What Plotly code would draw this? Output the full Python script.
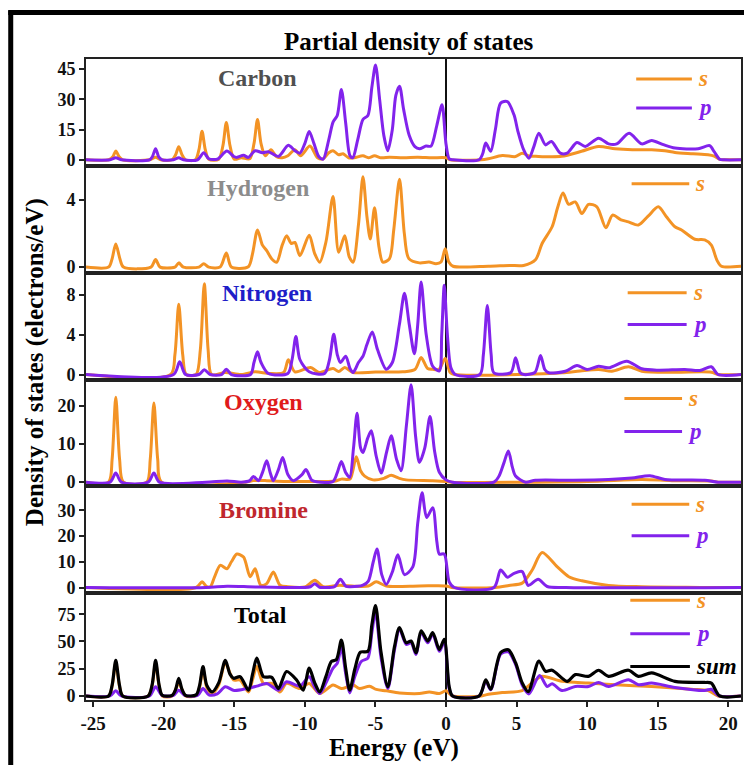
import plotly.graph_objects as go
from plotly.subplots import make_subplots

# ---------------- data ----------------
carbon_s = [(-25.5,0),(-23.9,0),(-23.6,1.5),(-23.39,4.3),(-23.15,1.5),(-22.9,0),
    (-21.0,0),(-20.57,1.2),(-20.2,0),(-19.4,0),(-19.15,2.5),(-18.93,6.5),(-18.7,2.5),(-18.45,0),
    (-17.75,0),(-17.5,5),(-17.28,14.2),(-17.05,5),(-16.8,0.3),(-16.1,0.3),(-15.8,7),(-15.56,18.5),
    (-15.3,7),(-15.0,0.3),(-14.5,1),(-13.9,0.5),(-13.6,8),(-13.35,20),(-13.1,8),(-12.8,2),(-12.4,5),
    (-12.0,1.5),(-11.6,1),(-11.2,2),(-10.7,5),(-10.3,2),(-9.64,6.8),(-9.1,1),(-8.7,0.5),(-8.3,3.5),
    (-8.0,4.5),(-7.6,2.5),(-7.29,3),(-6.9,1),(-6.5,1),(-5.88,2),(-5.5,1),(-5.06,2),(-4.6,1),(-4.0,1.2),
    (-3.0,1),(-2.0,1.3),(-1.0,1),(0,1),(0.3,0),(2.5,0),(3.0,0.5),(4.0,2.1),(4.93,1.6),(5.4,3.3),
    (5.9,1.8),(6.34,1.7),(7.3,1.5),(8.2,1.7),(9.6,4.2),(10.8,6.6),(11.98,5.5),(13.2,5),(14.57,5),
    (15.5,4.5),(16.22,3.6),(17.5,3),(18.57,2.5),(19.0,1.8),(19.4,0.2),(19.7,0),(20.9,0)]
carbon_p = [(-25.5,0),(-23.8,0),(-23.39,1),(-23.0,0),(-21.0,0),(-20.8,1.5),(-20.57,5.5),(-20.35,1.5),
    (-20.1,0),(-19.3,0),(-18.93,1),(-18.6,0),(-17.6,0),(-17.16,3.5),(-16.8,0.5),(-16.2,0.3),(-15.52,4.3),
    (-15.0,1.5),(-14.8,1.2),(-14.34,2.2),(-14.0,1.2),(-13.52,4.5),(-13.0,3.5),(-12.58,4),(-11.87,1.7),
    (-11.17,7.2),(-10.7,4.5),(-10.35,3.3),(-10.0,8),(-9.69,14),(-9.35,8),(-9.0,1.5),(-8.7,0.3),(-8.3,10),
    (-8.0,18.7),(-7.7,22),(-7.41,34.9),(-7.1,18),(-6.8,2),(-6.6,1),(-6.25,10),(-5.88,20),(-5.53,22),
    (-5.25,36),(-4.99,47),(-4.7,30),(-4.4,12),(-4.12,4.5),(-3.8,15),(-3.55,32),(-3.29,36.5),(-3.0,25),
    (-2.6,12),(-2.2,6.5),(-1.88,5.5),(-1.41,6.8),(-1.06,6.8),(-0.65,17),(-0.28,27.3),(0.0,8),(0.23,0.5),
    (0.5,0),(2.35,0),(2.6,3),(2.82,8.3),(3.17,4.2),(3.5,15),(3.87,28.1),(4.35,28.9),(4.82,22.3),(5.1,14),
    (5.5,5),(5.87,0.8),(6.2,6),(6.58,13.2),(7.05,7.4),(7.47,9.1),(8.1,3.3),(8.58,3.3),(9.28,8.6),(9.87,6.6),
    (10.81,10.7),(11.52,7.9),(12.1,7.9),(12.97,13.2),(13.87,7.9),(14.57,9.6),(15.4,7.5),(16.22,5.8),
    (17.86,5.5),(18.68,7.0),(19.0,4),(19.39,0.3),(19.7,0),(20.9,0)]
hydrogen_s = [(-25.5,0),(-23.9,0),(-23.65,0.5),(-23.39,1.37),(-23.1,0.5),(-22.85,0),(-20.9,0),
    (-20.57,0.45),(-20.25,0),(-19.2,0),(-18.93,0.25),(-18.6,0),(-17.5,0),(-17.16,0.2),(-16.8,0),(-16.0,0),
    (-15.56,0.84),(-15.2,0),(-14.0,0.02),(-13.7,0.8),(-13.35,2.2),(-13.0,1.3),(-12.7,0.98),(-12.35,0.5),
    (-11.99,0.29),(-11.6,1.3),(-11.29,1.85),(-10.95,1.4),(-10.7,1.46),(-10.35,0.67),(-9.69,1.89),
    (-9.3,0.8),(-8.94,0.29),(-8.5,1.5),(-8.0,4.18),(-7.6,0.88),(-7.17,1.86),(-6.85,0.6),(-6.58,0.29),
    (-6.2,2.5),(-5.88,5.35),(-5.6,3),(-5.36,1.66),(-5.06,3.52),(-4.75,1.2),(-4.47,0.29),(-4.0,0.5),
    (-3.7,2.2),(-3.29,5.2),(-2.95,2),(-2.63,0.5),(-1.88,0.25),(-1.2,0.3),(-0.71,0.2),(-0.35,0.3),
    (-0.05,1.08),(0.2,0.3),(0.5,0.05),(3.0,0.05),(4.5,0.1),(5.5,0.1),(6.34,0.43),(6.81,1.4),(7.52,2.39),
    (7.9,3.5),(8.29,4.39),(8.69,3.72),(9.16,3.86),(9.63,3.17),(10.1,3.72),(10.69,3.57),(11.33,2.33),
    (11.8,3.08),(12.4,2.8),(12.93,2.68),(13.63,2.49),(14.3,3.0),(15.04,3.57),(15.6,3.0),(16.22,2.39),
    (16.69,2.2),(17.63,1.65),(18.33,1.61),(18.8,1.3),(19.2,0.4),(19.51,0.05),(20.9,0.05)]
nitrogen_s = [(-25.5,0),(-19.5,0),(-19.2,2),(-18.93,7.03),(-18.65,2),(-18.4,0),(-17.7,0),(-17.4,2.5),
    (-17.12,9.1),(-16.85,2.5),(-16.6,0),(-15.63,0.2),(-14.5,0),(-13.52,0.27),(-12.5,0.1),(-11.5,0.2),
    (-11.17,1.47),(-10.7,0.27),(-9.59,0.7),(-9.0,0.2),(-8.0,0.6),(-7.6,0.3),(-7.17,0.7),(-6.58,0.2),
    (-5.0,0.25),(-3.06,0.27),(-2.2,0.5),(-1.76,1.7),(-1.3,0.6),(-0.94,0.53),(-0.5,0.5),(-0.05,1.6),
    (0.3,0.2),(0.6,0),(6.34,0.05),(8.22,0.17),(9.5,0.35),(10.81,0.5),(11.75,0.33),(12.93,0.77),
    (13.87,0.33),(16.22,0.23),(18.8,0.23),(19.27,0),(20.9,0)]
nitrogen_p = [(-25.5,0),(-19.3,0),(-18.86,1.27),(-18.45,0),(-17.5,0),(-17.12,0.47),(-16.7,0),(-15.9,0),
    (-15.56,0.53),(-15.2,0),(-13.85,0),(-13.6,1.2),(-13.35,2.27),(-13.1,1.2),(-12.58,0.1),(-11.2,0.1),
    (-10.9,1.5),(-10.63,3.8),(-10.35,1.5),(-9.69,0.27),(-8.6,0.1),(-8.25,1.5),(-7.95,4.03),(-7.7,2),
    (-7.48,1.2),(-7.1,1.83),(-6.8,0.6),(-6.58,0.2),(-6.2,1.2),(-5.88,1.83),(-5.6,3),(-5.22,4.27),
    (-4.85,2.5),(-4.23,0.53),(-3.8,1.2),(-3.3,5),(-2.94,8.13),(-2.6,5),(-2.24,2.07),(-2.0,5),(-1.76,9.27),
    (-1.4,4),(-0.94,0.83),(-0.47,0.37),(-0.3,4),(-0.12,8.93),(0.1,4),(0.35,0.67),(0.66,0),(2.4,0),
    (2.65,2),(2.93,6.9),(3.2,2),(3.4,0.17),(4.6,0.2),(4.93,1.67),(5.25,0.2),(5.52,0),(6.3,0.2),(6.7,1.9),
    (7.0,0.5),(7.28,0.17),(8.46,0.33),(9.28,0.9),(9.99,0.5),(10.81,0.83),(11.52,0.67),(12.81,1.33),
    (13.87,0.57),(15.04,0.43),(16.92,0.5),(17.98,0.4),(18.8,0.77),(19.27,0),(20.9,0)]
oxygen_s = [(-25.5,0),(-23.9,0),(-23.65,6),(-23.39,22.3),(-23.12,6),(-22.85,0),(-21.2,0),(-20.95,6),
    (-20.69,20.8),(-20.42,6),(-20.15,0),(-14.2,0),(-13.64,0.4),(-12.7,0.4),(-11.5,0.2),(-9.5,0.2),
    (-7.8,0.3),(-7.41,0.8),(-6.8,0.8),(-6.6,3),(-6.35,6.7),(-6.05,3),(-5.76,1.6),(-5.17,0.6),(-4.4,1),
    (-3.88,1.8),(-3.3,1),(-2.82,0.6),(-0.94,0.4),(0,0.2),(0.4,0),(10,0.2),(13.87,0.7),(16,0.4),
    (18.8,0.3),(19.3,0),(20.9,0)]
oxygen_p = [(-25.5,0),(-23.8,0),(-23.39,2.4),(-23.0,0),(-21.1,0),(-20.69,2.4),(-20.3,0),(-17.0,0),
    (-15.5,0.3),(-14.5,0),(-13.9,0.4),(-13.64,1.5),(-13.28,0.4),(-13.0,2.5),(-12.7,5.6),(-12.45,2.5),
    (-12.23,0.4),(-11.85,3.5),(-11.57,6.5),(-11.2,2),(-10.82,0.4),(-10.2,2),(-9.92,3.3),(-9.5,0.5),
    (-9.17,0.1),(-8.0,0.2),(-7.7,2.5),(-7.41,5.4),(-7.1,2.5),(-6.82,1.3),(-6.55,9),(-6.3,18.1),(-6.05,9),
    (-5.88,7.8),(-5.55,11.5),(-5.29,13.5),(-4.95,7),(-4.59,2.4),(-4.2,8),(-3.88,12.2),(-3.5,6),(-3.18,3),
    (-2.8,15),(-2.47,25.6),(-2.15,12),(-1.88,5.2),(-1.5,9),(-1.13,17.3),(-0.8,8),(-0.47,2.6),(0,0.6),
    (0.47,0),(3.4,0),(3.76,1.6),(4.1,5),(4.42,8.2),(4.7,4),(4.93,1.6),(5.64,0),(6.34,0.5),(9,0.5),
    (11.52,0.7),(13.16,1.1),(14.45,1.7),(15.51,0.7),(18.33,0.5),(19.27,0),(20.9,0)]
bromine_s = [(-25.5,0),(-17.7,0),(-17.28,2.2),(-16.95,0.3),(-16.69,0.3),(-16.4,4),(-15.99,8.6),
    (-15.52,7.3),(-15.2,10),(-14.81,13),(-14.34,11.8),(-13.87,4.2),(-13.52,7.3),(-13.12,0.9),(-12.7,1.5),
    (-12.23,6),(-11.76,0.9),(-11.2,0.3),(-10.0,0.2),(-9.29,2.8),(-8.7,0.3),(-7.53,0.9),(-6.5,0.5),
    (-5.5,0.6),(-4.94,2.2),(-4.23,0.6),(-1.88,0.6),(0,0.6),(0.4,0),(3.5,0),(4.46,0.8),(5.4,1.7),
    (6.11,6.8),(6.81,13.6),(7.87,8.1),(8.7,4.2),(9.63,2.6),(11.52,0.8),(13.87,0.3),(17,0.1),(19.3,0),
    (20.9,0)]
bromine_p = [(-25.5,0),(-17,0),(-15.5,0.5),(-13.5,0.2),(-10,0),(-9.6,0.3),(-9.29,1.5),(-8.95,0.1),
    (-8.7,0),(-7.9,0.3),(-7.48,3.2),(-7.1,0.5),(-6.82,0.3),(-5.88,0.9),(-5.5,2.5),(-5.15,10),(-4.89,15),
    (-4.55,5),(-4.23,1.2),(-3.8,6),(-3.41,12.7),(-2.94,5),(-2.35,8),(-2.0,25),(-1.69,36.8),(-1.37,27.2),
    (-0.94,31),(-0.65,18),(-0.47,13),(-0.12,13),(0.23,2.2),(0.59,0),(3.4,0),(3.87,6.8),(4.35,4),
    (4.82,5.5),(5.4,6.2),(5.83,0.8),(6.53,3.2),(7.17,0.4),(8.5,0),(20.9,0)]
total_s = [(-25.5,0),(-23.9,0),(-23.65,9),(-23.39,30.2),(-23.13,9),(-22.9,0),(-21.1,0),(-20.82,9),
    (-20.57,30.2),(-20.32,9),(-20.1,0),(-19.4,0),(-18.93,11.5),(-18.45,0),(-17.7,0.5),(-17.45,8),
    (-17.21,25.5),(-16.95,8),(-16.57,2),(-16.1,10),(-15.63,30),(-15.05,14.6),(-14.58,14.6),(-13.99,3.7),
    (-13.7,15),(-13.4,27),(-12.93,11.5),(-12.34,11.5),(-11.76,3.7),(-11.29,11.5),(-10.35,6.8),
    (-9.69,11.5),(-8.94,2.2),(-8.0,10),(-7.41,6.8),(-6.58,10),(-6.12,6.8),(-5.41,9),(-4.94,6),
    (-4.23,4.7),(-3.29,2.8),(-1.88,2.2),(-1.18,3.7),(-0.47,2.2),(0,4.7),(0.47,0),(2.5,0),(2.82,1),
    (3.99,3.1),(5.4,5),(6.22,13.4),(6.81,18),(8.22,13.4),(10.1,11.8),(11.98,10.3),(14.57,8.7),
    (17.39,6.2),(18.57,5),(19.27,0),(20.9,0)]
total_p = [(-25.5,0),(-23.8,0),(-23.39,4.7),(-23.0,0),(-21.0,0),(-20.57,8.4),(-20.1,0.5),(-19.3,0.5),
    (-18.93,5.3),(-18.5,0.5),(-17.6,0.5),(-17.21,6.8),(-16.8,1),(-16.2,2),(-15.63,8.4),(-15.0,5),
    (-14.11,6.8),(-13.4,9),(-12.7,11.5),(-11.87,5.3),(-11.29,13),(-10.35,9),(-9.69,17.7),(-9.3,8),
    (-8.94,2.2),(-8.5,12),(-8.0,25.5),(-7.7,30),(-7.41,44),(-7.1,20),(-6.82,2.8),(-6.45,18),(-6.0,31.7),
    (-5.53,34.8),(-5.25,58),(-4.99,76.7),(-4.6,35),(-4.12,6.8),(-3.65,42),(-3.29,61.3),(-2.82,47.3),
    (-2.47,48.8),(-2.12,38),(-1.76,58.2),(-1.29,48.8),(-0.94,56.6),(-0.47,41),(-0.12,49.5),(0.23,6.8),
    (0.47,0),(2.35,0),(2.82,13.4),(3.17,5.6),(3.87,38.2),(4.42,40.4),(4.93,28.9),(5.4,10),(5.87,1.9),
    (6.63,18.7),(7.17,8.7),(7.52,11.2),(8.22,5),(9.16,8.7),(10.1,8.7),(10.81,12.4),(11.52,8.7),
    (12.93,14.9),(13.63,10.3),(14.57,11.8),(16.22,7.8),(18.33,5),(18.8,6.2),(19.35,0),(20.9,0)]
total_sum = [(-25.5,0),(-23.9,0),(-23.65,10),(-23.39,32.6),(-23.13,10),(-22.9,0),(-21.1,0),(-20.82,10),
    (-20.57,32.6),(-20.32,10),(-20.1,0.6),(-19.4,0.6),(-19.15,6),(-18.93,16.2),(-18.7,6),(-18.45,0.6),
    (-17.7,1),(-17.45,10),(-17.21,27),(-16.95,10),(-16.57,3.7),(-16.1,12),(-15.63,32.6),(-15.3,20),
    (-15.05,16.2),(-14.58,17.7),(-13.99,5.3),(-13.7,20),(-13.4,34.8),(-12.93,17.7),(-12.34,17.1),
    (-11.87,6.8),(-11.29,22.4),(-10.58,14.6),(-10.11,5.3),(-9.69,25.5),(-9.3,12),(-8.94,3.7),(-8.5,18),
    (-8.11,31.7),(-7.76,33.3),(-7.41,51.3),(-7.1,25),(-6.82,5.3),(-6.45,25),(-6.07,40.1),(-5.53,41.0),
    (-5.25,65),(-4.99,83),(-4.6,40),(-4.12,8.4),(-3.65,45),(-3.29,62.8),(-2.82,48.8),(-2.47,50.4),
    (-2.12,39.5),(-1.76,59.7),(-1.29,50.4),(-0.94,58.2),(-0.47,42.6),(-0.12,52),(0.23,8.4),(0.47,0),
    (2.35,0),(2.82,14.9),(3.17,6.2),(3.87,39.8),(4.42,42.3),(4.93,30.5),(5.4,12),(5.83,4),(6.58,32),
    (7.05,22.7),(7.52,23.6),(8.58,13.4),(9.16,19.6),(10.1,18),(10.81,23.6),(11.52,18),(12.93,23.6),
    (13.63,18),(14.57,21.1),(16.22,13.4),(18.33,12.4),(18.8,11.8),(19.39,0),(20.9,0)]

panel_names = ["Carbon", "Hydrogen", "Nitrogen", "Oxygen", "Bromine", "Total"]
panel_series = [
    [("s", carbon_s), ("p", carbon_p)],
    [("s", hydrogen_s)],
    [("s", nitrogen_s), ("p", nitrogen_p)],
    [("s", oxygen_s), ("p", oxygen_p)],
    [("s", bromine_s), ("p", bromine_p)],
    [("s", total_s), ("p", total_p), ("sum", total_sum)],
]
y_ranges = [[-3, 50], [-0.33, 6], [-0.5, 10.2], [-1.1, 27], [-2.2, 39.3], [-3.7, 94.3]]
y_ticks = [[0, 15, 30, 45], [0, 4], [0, 4, 8], [0, 10, 20], [0, 10, 20, 30], [0, 25, 50, 75]]
x_ticks = [-25, -20, -15, -10, -5, 0, 5, 10, 15, 20]
x_ticklabels = ["-25", "-20", "-15", "-10", "-5", "0", "5", "10", "15", "20"]
x_range = [-25.5, 20.9]

# ---------------- styling ----------------
FONT = "Liberation Serif, Times New Roman, serif"
colors = {"s": "#F39325", "p": "#8223EC", "sum": "#000000"}
label_colors = ["#505050", "#8C8C8C", "#1E1EC8", "#E01B1B", "#C0272D", "#000000"]
label_pos = [(0.262, 0.822), (0.262, 0.794), (0.277, 0.813), (0.271, 0.785), (0.271, 0.778), (0.266, 0.80)]
legend_pos = [
    (0.840, 0.925, [0.813, 0.542]),
    (0.833, 0.921, [0.832]),
    (0.827, 0.917, [0.813, 0.514]),
    (0.822, 0.910, [0.822, 0.514]),
    (0.833, 0.921, [0.833, 0.537]),
    (0.831, 0.922, [0.933, 0.619, 0.314]),
]

fig = make_subplots(rows=6, cols=1, shared_xaxes=True, vertical_spacing=0)

for i, series in enumerate(panel_series):
    row = i + 1
    for name, pts in series:
        fig.add_trace(go.Scatter(
            x=[p[0] for p in pts], y=[p[1] for p in pts], mode="lines",
            line=dict(color=colors[name], width=3.2 if name == "sum" else 3, shape="spline", smoothing=0.8),
            showlegend=False, hoverinfo="skip"), row=row, col=1)

    sfx = "" if row == 1 else str(row)
    fig.update_yaxes(range=y_ranges[i], tickvals=y_ticks[i],
                     ticktext=[f"<b>{v}</b>" for v in y_ticks[i]], row=row, col=1)
    fig.add_annotation(x=label_pos[i][0], y=label_pos[i][1], xref=f"x{sfx} domain", yref=f"y{sfx} domain",
                       text=f"<b>{panel_names[i]}</b>", showarrow=False, xanchor="center", yanchor="middle",
                       font=dict(family=FONT, size=24, color=label_colors[i]))
    x0, x1, ys = legend_pos[i]
    for (name, _), yy in zip(series, ys):
        fig.add_shape(type="line", xref=f"x{sfx} domain", yref=f"y{sfx} domain",
                      x0=x0, x1=x1, y0=yy, y1=yy, line=dict(color=colors[name], width=3))
        fig.add_annotation(x=x1 + 0.006, y=yy, xref=f"x{sfx} domain", yref=f"y{sfx} domain",
                           text=f"<b><i>{name}</i></b>", showarrow=False, xanchor="left", yanchor="middle",
                           font=dict(family=FONT, size=23, color=colors[name]))

fig.update_xaxes(range=x_range, showline=True, mirror=True, linecolor="#222", linewidth=1.6,
                 zeroline=True, zerolinecolor="#111", zerolinewidth=1.5, showgrid=False,
                 tickvals=x_ticks, ticktext=[f"<b>{t}</b>" for t in x_ticklabels],
                 ticks="", showticklabels=False)
fig.update_xaxes(ticks="outside", ticklen=5, tickwidth=1.6, tickcolor="#222", showticklabels=True,
                 tickfont=dict(family=FONT, size=19, color="#111"), row=6, col=1)
fig.update_yaxes(showline=True, mirror=True, linecolor="#222", linewidth=1.6, zeroline=False,
                 showgrid=False, ticks="outside", ticklen=5, tickwidth=1.6, tickcolor="#222",
                 tickfont=dict(family=FONT, size=18, color="#111"))

# page has an 8px body margin; plot area targeted at page px x 86..743, y 59..700
PX0, PW, PY1, PH = 86, 657, 700, 641
def px(xp):
    return (xp - PX0) / PW
def py(yp):
    return (PY1 - yp) / PH

fig.add_annotation(x=px(410), y=py(42), xref="paper", yref="paper", xanchor="center", yanchor="middle",
                   text="<b>Partial density of states</b>", showarrow=False,
                   font=dict(family=FONT, size=25, color="#000"))
fig.add_annotation(x=px(395), y=py(748), xref="paper", yref="paper", xanchor="center", yanchor="middle",
                   text="<b>Energy (eV)</b>", showarrow=False,
                   font=dict(family=FONT, size=25, color="#000"))
fig.add_annotation(x=px(35), y=py(362), xref="paper", yref="paper", xanchor="center", yanchor="middle",
                   text="<b>Density of states (electrons/eV)</b>", showarrow=False, textangle=-90,
                   font=dict(family=FONT, size=25, color="#000"))

fig.add_shape(type="line", xref="paper", yref="paper", x0=px(10.5), x1=px(10.5),
              y0=-0.3, y1=py(10.5), line=dict(color="#000", width=5))
fig.add_shape(type="line", xref="paper", yref="paper", x0=px(8), x1=1.1,
              y0=py(12.5), y1=py(12.5), line=dict(color="#000", width=5))

fig.update_layout(width=744, height=757, margin=dict(l=78, r=9, t=51, b=65),
                  font=dict(family=FONT, color="#111"),
                  plot_bgcolor="white", paper_bgcolor="white", showlegend=False)

fig.write_html("out.html")
